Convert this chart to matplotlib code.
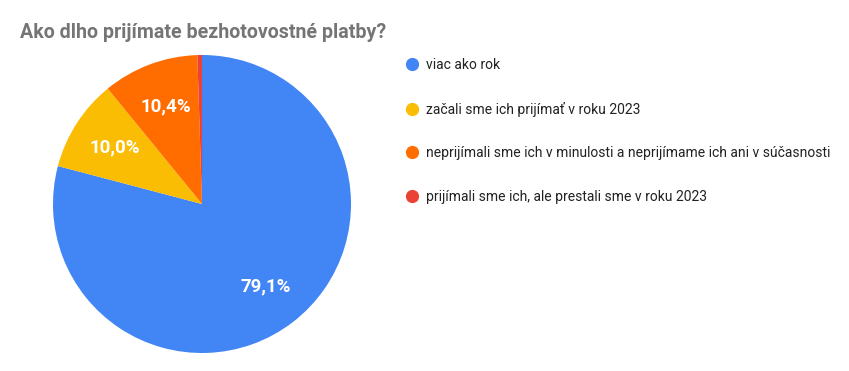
import matplotlib
matplotlib.use("Agg")
import matplotlib.pyplot as plt
from matplotlib.lines import Line2D

plt.rcParams['font.family'] = ['Roboto', 'DejaVu Sans']

categories = ["viac ako rok", "začali sme ich prijímať v roku 2023",
              "neprijímali sme ich v minulosti a neprijímame ich ani v súčasnosti",
              "prijímali sme ich, ale prestali sme v roku 2023"]
values = [79.1, 10.0, 10.4, 0.5]
colors = ["#4285F4", "#FBBC04", "#FF6D01", "#EA4335"]
title = "Ako dlho prijímate bezhotovostné platby?"

W, H = 849, 371
fig = plt.figure(figsize=(W/100, H/100), dpi=100)
cx, cy, r = 202, 204, 149
ax = fig.add_axes([(cx-r)/W, (H-cy-r)/H, 2*r/W, 2*r/H])

def fmt(p):
    return ("%.1f%%" % p).replace(".", ",") if p >= 5 else ""

wedges, texts, autotexts = ax.pie(values, colors=colors, startangle=90, counterclock=False,
                                  autopct=fmt, pctdistance=0.7,
                                  textprops=dict(color="white", fontweight="bold", fontsize=13.5))
ax.set_aspect('equal')
ax.set_xlim(-1, 1); ax.set_ylim(-1, 1)

fig.text(20/W, 1-32/H, title, fontsize=14.1, fontweight="bold", color="#757575",
         va="center", ha="left")

handles = [Line2D([0], [0], marker='o', linestyle='none', markersize=8.5,
                  markerfacecolor=c, markeredgecolor=c) for c in colors]
leg = fig.legend(handles, categories, loc="upper left", bbox_to_anchor=(404/W, 1-58/H),
                 frameon=False, fontsize=10, labelspacing=2.13, handletextpad=0.35,
                 handlelength=1.2, borderpad=0, borderaxespad=0, labelcolor="#222222")

fig.savefig("out.png", dpi=100)
